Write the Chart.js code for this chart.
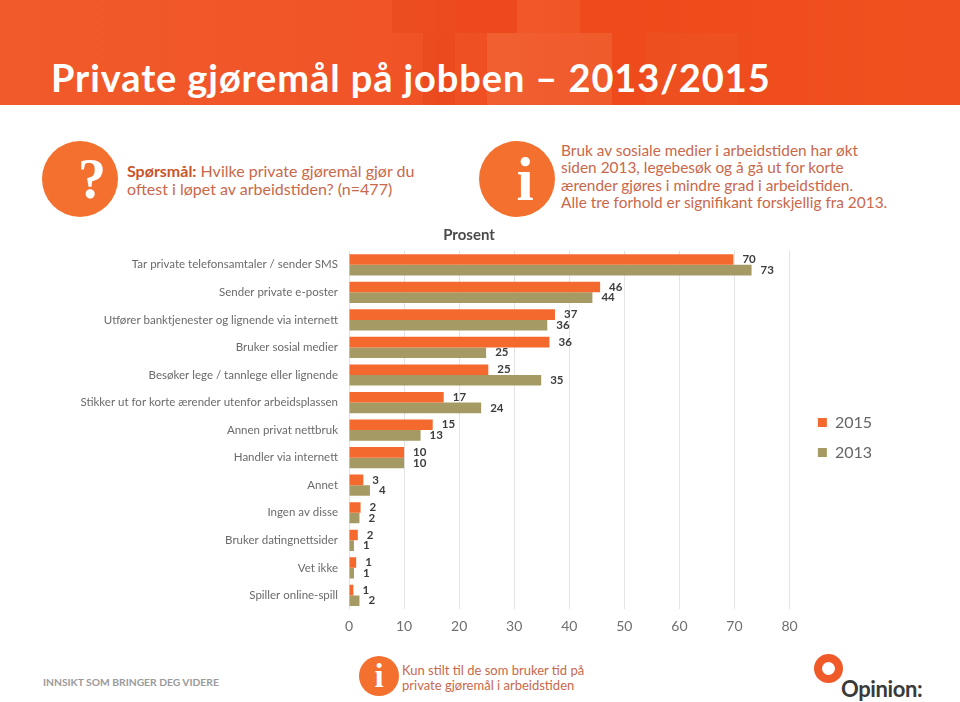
<!DOCTYPE html>
<html>
<head>
<meta charset="utf-8">
<title>Private gjøremål på jobben</title>
<script src="https://cdn.jsdelivr.net/npm/chart.js@4/dist/chart.umd.min.js"></script>
<style>
html, body { margin: 0; padding: 0; background: #fff; }
body { width: 960px; height: 702px; position: relative; overflow: hidden; font-family: 'Lato', sans-serif; }
#header { position: absolute; left: 0; top: 0; width: 960px; height: 105px; background: linear-gradient(90deg, #f15a29 0%, #f05427 40%, #ee4a1b 62%, #f0501f 100%); overflow: hidden; }
#header div { position: absolute; }
#title { position: absolute; left: 51px; top: 54px; color: #fff; font-size: 38px; font-weight: 700; white-space: nowrap; letter-spacing: .9px; }
.circle { position: absolute; box-sizing: border-box; border-radius: 50%; background: #f4702f; color: #fff; text-align: center; font-family: 'Liberation Serif', serif; font-weight: 700; }
.note { position: absolute; color: #c9684a; white-space: nowrap; }
.note b { color: #c9552b; }
#chart-box { position: absolute; left: 0; top: 225px; width: 938px; height: 425px; }
#slogan { position: absolute; left: 43px; top: 676px; font-size: 10.3px; font-weight: 700; color: #9a9a9a; white-space: nowrap; }
#ring { position: absolute; left: 814px; top: 654px; width: 13px; height: 13px; border: 8.5px solid #ef5a28; border-radius: 50%; }
#opinion { position: absolute; left: 841px; top: 675px; font-size: 22px; font-weight: 700; color: #3a3a3a; white-space: nowrap; letter-spacing: -0.4px; }
</style>
</head>
<body>
<div id="header">
  <div style="left:392px;top:0;width:125px;height:33px;background:#e53f15;opacity:.3"></div>
  <div style="left:423px;top:33px;width:32px;height:72px;background:#e53f15;opacity:.35"></div>
  <div style="left:487px;top:33px;width:125px;height:72px;background:#f7875a;opacity:.28"></div>
  <div style="left:517px;top:0;width:63px;height:33px;background:#f7875a;opacity:.18"></div>
  <div style="left:645px;top:33px;width:93px;height:72px;background:#f47a4a;opacity:.08"></div>
</div>
<div id="title">Private gjøremål på jobben – 2013/2015</div>

<div class="circle" style="left:42px;top:141px;width:76px;height:76px;line-height:76px;font-size:56px;padding-left:24px">?</div>
<div class="note" style="left:127px;top:162px;font-size:16px;line-height:17.5px"><b>Spørsmål:</b> Hvilke private gjøremål gjør du<br>oftest i løpet av arbeidstiden? (n=477)</div>

<div class="circle" style="left:479px;top:141px;width:76px;height:76px;line-height:76px;font-size:62px;padding-left:16px">i</div>
<div class="note" style="left:561px;top:142px;font-size:15.4px;line-height:17.4px">Bruk av sosiale medier i arbeidstiden har økt<br>siden 2013, legebesøk og å gå ut for korte<br>ærender gjøres i mindre grad i arbeidstiden.<br>Alle tre forhold er signifikant forskjellig fra 2013.</div>

<div id="chart-box"><canvas id="myChart"></canvas></div>

<div id="slogan">INNSIKT SOM BRINGER DEG VIDERE</div>
<div class="circle" style="left:359px;top:656px;width:40px;height:40px;line-height:40px;font-size:33px">i</div>
<div class="note" style="left:402px;top:663px;font-size:13px;line-height:15px">Kun stilt til de som bruker tid på<br>private gjøremål i arbeidstiden</div>
<div id="ring"></div>
<div id="opinion">Opinion:</div>

<script>
const categories = [
  'Tar private telefonsamtaler / sender SMS',
  'Sender private e-poster',
  'Utfører banktjenester og lignende via internett',
  'Bruker sosial medier',
  'Besøker lege / tannlege eller lignende',
  'Stikker ut for korte ærender utenfor arbeidsplassen',
  'Annen privat nettbruk',
  'Handler via internett',
  'Annet',
  'Ingen av disse',
  'Bruker datingnettsider',
  'Vet ikke',
  'Spiller online-spill'
];
const values2015 = [69.8, 45.6, 37.4, 36.4, 25.3, 17.2, 15.2, 10, 2.6, 2.1, 1.6, 1.3, 0.8];
const values2013 = [73.1, 44.2, 36, 24.9, 34.9, 24, 13, 10, 3.8, 1.9, 0.9, 0.9, 1.9];
const xTicks = [0, 10, 20, 30, 40, 50, 60, 70, 80];

const fontName = "'Lato', sans-serif";

// tallene ved enden av stolpene
const barLabels = {
  id: 'barLabels',
  afterDatasetsDraw(chart) {
    const ctx = chart.ctx;
    ctx.save();
    ctx.font = '700 11.5px ' + fontName;
    ctx.fillStyle = '#3d3d3d';
    ctx.textAlign = 'left';
    ctx.textBaseline = 'middle';
    chart.data.datasets.forEach((dataset, i) => {
      chart.getDatasetMeta(i).data.forEach((bar, j) => {
        ctx.fillText(Math.round(dataset.data[j]), bar.x + 9, bar.y);
      });
    });
    ctx.restore();
  }
};

new Chart(document.getElementById('myChart'), {
  type: 'bar',
  data: {
    labels: categories,
    datasets: [
      { label: '2015', data: values2015, backgroundColor: '#f46a2e' },
      { label: '2013', data: values2013, backgroundColor: '#a59a63' }
    ]
  },
  options: {
    indexAxis: 'y',
    responsive: true,
    maintainAspectRatio: false,
    animation: false,
    categoryPercentage: 0.77,
    barPercentage: 1,
    layout: { padding: { left: 56, right: 56, bottom: 6 } },
    plugins: {
      title: {
        display: true,
        text: 'Prosent',
        color: '#4a4a4a',
        font: { family: fontName, size: 15, weight: '700' },
        padding: { top: 1, bottom: 7 }
      },
      legend: {
        position: 'right',
        title: { display: true, text: '', font: { size: 5 }, padding: 0 },
        labels: {
          boxWidth: 9,
          boxHeight: 9,
          padding: 14,
          color: '#666',
          font: { family: fontName, size: 16 }
        }
      },
      tooltip: { enabled: false }
    },
    scales: {
      x: {
        min: 0,
        max: 82.6,
        afterBuildTicks(axis) { axis.ticks = xTicks.map(v => ({ value: v })); },
        grid: { color: '#e3e3e3', drawTicks: false },
        border: { display: false },
        ticks: { color: '#6f6f6f', font: { family: fontName, size: 14 }, padding: 9, maxRotation: 0 }
      },
      y: {
        afterFit(axis) { axis.width = 293; },
        grid: { display: false, drawTicks: false },
        border: { display: false },
        ticks: { color: '#6a6a6a', font: { family: fontName, size: 11.5 }, padding: 11, autoSkip: false }
      }
    }
  },
  plugins: [barLabels]
});
</script>
</body>
</html>
